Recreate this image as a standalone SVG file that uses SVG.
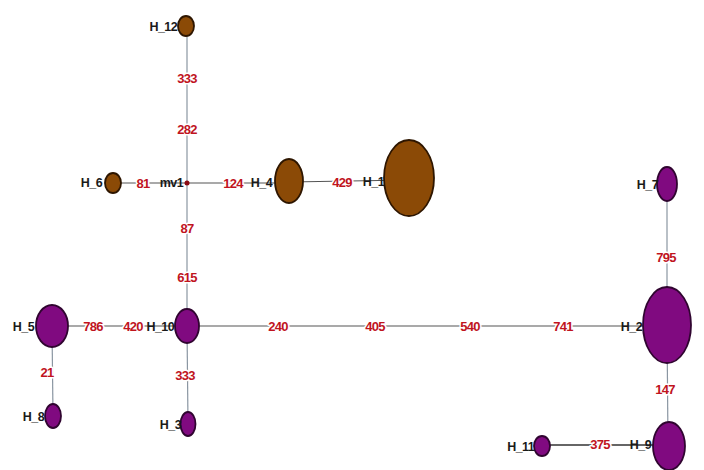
<svg xmlns="http://www.w3.org/2000/svg" width="704" height="470" viewBox="0 0 704 470">
<style>
.e{stroke:#555;stroke-width:1.2;fill:none}
.v{stroke:#8a96a2;stroke-width:1.2;fill:none}
.el{font-family:"Liberation Sans",Arial,sans-serif;font-size:13px;font-weight:bold;letter-spacing:-0.7px;fill:#c0141e;text-anchor:middle;stroke:#fff;stroke-width:3;paint-order:stroke;stroke-linejoin:round}
.nl{font-family:"Liberation Sans",Arial,sans-serif;font-size:12.5px;font-weight:bold;letter-spacing:-0.6px;fill:#1a1a1a;text-anchor:end}
.br{fill:#8b4a06;stroke:#2e1600;stroke-width:1.8}
.pu{fill:#800a80;stroke:#300530;stroke-width:1.8}
</style>
<rect width="704" height="470" fill="#fff"/>
<g id="connectors">
<line class="v" x1="187" y1="26" x2="187" y2="326"/>
<line class="v" x1="187" y1="326" x2="188" y2="424"/>
<line class="e" x1="113" y1="183" x2="289" y2="183"/>
<line class="e" x1="289" y1="182" x2="409" y2="180"/>
<line class="e" x1="52" y1="326" x2="667" y2="326"/>
<line class="v" x1="52" y1="326" x2="53" y2="416"/>
<line class="v" x1="667" y1="184" x2="667" y2="325"/>
<line class="v" x1="667" y1="325" x2="668" y2="446"/>
<line class="e" x1="542" y1="445" x2="668" y2="445" style="stroke-width:1.8;stroke:#666"/>
<text class="el" x="187" y="83">333</text>
<text class="el" x="187" y="134">282</text>
<text class="el" x="143" y="188">81</text>
<text class="el" x="233" y="188">124</text>
<text class="el" x="342" y="187">429</text>
<text class="el" x="187" y="233">87</text>
<text class="el" x="187" y="282">615</text>
<text class="el" x="93" y="331">786</text>
<text class="el" x="133" y="331">420</text>
<text class="el" x="278" y="331">240</text>
<text class="el" x="375" y="331">405</text>
<text class="el" x="470" y="331">540</text>
<text class="el" x="563" y="331">741</text>
<text class="el" x="47" y="377">21</text>
<text class="el" x="185" y="380">333</text>
<text class="el" x="666" y="262">795</text>
<text class="el" x="665" y="394">147</text>
<text class="el" x="600" y="449">375</text>
</g>
<g id="H_12"><ellipse class="br" cx="186" cy="26" rx="8" ry="10"/><text class="nl" x="177" y="31">H_12</text></g>
<g id="H_6"><ellipse class="br" cx="113" cy="183" rx="8" ry="10"/><text class="nl" x="102" y="187">H_6</text></g>
<g id="mv1"><circle cx="187" cy="183" r="2.5" fill="#8b0a14"/><text class="nl" x="183" y="187">mv1</text></g>
<g id="H_4"><ellipse class="br" cx="289" cy="181" rx="14" ry="22"/><text class="nl" x="272" y="187">H_4</text></g>
<g id="H_1"><ellipse class="br" cx="409" cy="178" rx="25" ry="38"/><text class="nl" x="384" y="186">H_1</text></g>
<g id="H_10"><ellipse class="pu" cx="187" cy="326" rx="12" ry="17"/><text class="nl" x="174" y="331">H_10</text></g>
<g id="H_5"><ellipse class="pu" cx="52" cy="326" rx="16" ry="21"/><text class="nl" x="34" y="331">H_5</text></g>
<g id="H_8"><ellipse class="pu" cx="53" cy="416" rx="8" ry="12"/><text class="nl" x="44" y="421">H_8</text></g>
<g id="H_3"><ellipse class="pu" cx="188" cy="424" rx="7.5" ry="12"/><text class="nl" x="181" y="429">H_3</text></g>
<g id="H_2"><ellipse class="pu" cx="667" cy="325" rx="24" ry="38"/><text class="nl" x="642" y="331">H_2</text></g>
<g id="H_7"><ellipse class="pu" cx="667" cy="184" rx="10" ry="17"/><text class="nl" x="658" y="189">H_7</text></g>
<g id="H_9"><ellipse class="pu" cx="669" cy="446" rx="16" ry="24"/><text class="nl" x="651" y="449">H_9</text></g>
<g id="H_11"><ellipse class="pu" cx="542" cy="446" rx="8" ry="10"/><text class="nl" x="534" y="451">H_11</text></g>
</svg>
